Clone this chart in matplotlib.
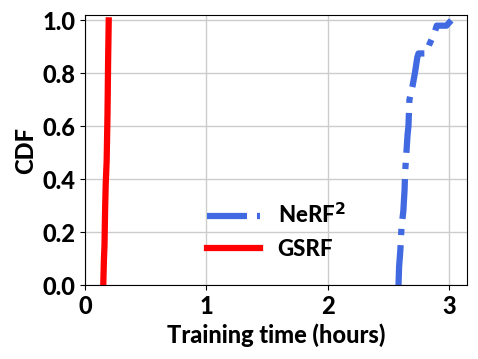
import matplotlib
matplotlib.use("Agg")
import matplotlib.pyplot as plt

# training time (hours) vs. CDF
nerf2_hours = [2.585, 2.59, 2.60, 2.61, 2.625, 2.635, 2.64, 2.65, 2.66, 2.667,
               2.675, 2.69, 2.70, 2.72, 2.74, 2.75, 2.81, 2.84, 2.86, 2.88,
               2.90, 2.98, 3.0, 3.02]
nerf2_cdf = [0.0, 0.07, 0.13, 0.22, 0.28, 0.36, 0.43, 0.50, 0.57, 0.60,
             0.70, 0.73, 0.75, 0.80, 0.86, 0.875, 0.875, 0.91, 0.93, 0.95,
             0.98, 0.98, 0.99, 1.0]
gsrf_hours = [0.15, 0.155, 0.16, 0.165, 0.17, 0.178, 0.185, 0.19, 0.195]
gsrf_cdf = [0.0, 0.09, 0.15, 0.28, 0.38, 0.47, 0.65, 0.85, 1.0]

plt.rcParams['font.family'] = ['Lato', 'DejaVu Sans']
plt.rcParams['font.weight'] = 'black'

fig, ax = plt.subplots(figsize=(4.78, 3.59), dpi=100)
ax.plot(nerf2_hours, nerf2_cdf, color='royalblue', lw=4.5, ls='-.',
        label='NeRF$^2$')
ax.plot(gsrf_hours, gsrf_cdf, color='red', lw=4.5, label='GSRF')

ax.set_xlim(0, 3.15)
ax.set_ylim(0, 1.02)
ax.set_xticks([0, 1, 2, 3])
ax.set_yticks([0, 0.2, 0.4, 0.6, 0.8, 1.0])
ax.set_yticklabels(['0.0', '0.2', '0.4', '0.6', '0.8', '1.0'])
ax.grid(True, color='#cccccc', lw=1)
ax.tick_params(labelsize=17)
ax.set_xlabel('Training time (hours)', fontsize=17, fontweight='black')
ax.set_ylabel('CDF', fontsize=17, fontweight='black')
ax.legend(loc='lower center', bbox_to_anchor=(0.5, 0.02), frameon=False,
          fontsize=16, handlelength=2.4)

fig.subplots_adjust(left=0.178, right=0.977, top=0.958, bottom=0.206)
fig.savefig('out.png')
